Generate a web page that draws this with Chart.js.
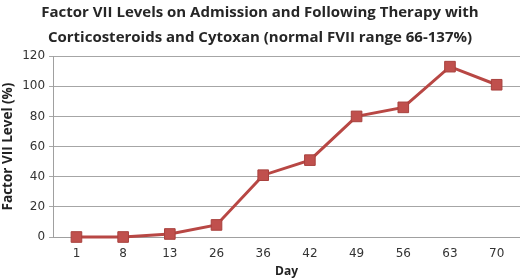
<!DOCTYPE html>
<html>
<head>
<meta charset="utf-8">
<script src="https://cdn.jsdelivr.net/npm/chart.js@4"></script>
<style>
  html, body { margin: 0; padding: 0; background: #fff; }
  #wrap { width: 520px; height: 278px; }
</style>
</head>
<body>
<div id="wrap"><canvas id="chart" width="520" height="278"></canvas></div>
<script>
const days = ['1', '8', '13', '26', '36', '42', '49', '56', '63', '70'];
const factorVII = [0, 0, 2, 8, 41, 51, 80, 86, 113, 101];
const yTicks = [0, 20, 40, 60, 80, 100, 120];

const titleLines = [
    'Factor VII Levels on Admission and Following Therapy with',
    'Corticosteroids and Cytoxan (normal FVII range 66-137%)'
];

const ctx = document.getElementById('chart').getContext('2d');
new Chart(ctx, {
    type: 'line',
    data: {
        labels: days,
        datasets: [{
            label: 'Factor VII Level (%)',
            data: factorVII,
            borderColor: '#b84744',
            borderWidth: 3,
            backgroundColor: '#c0504d',
            pointStyle: 'rect',
            pointRadius: 7.5,
            pointBorderColor: '#a8403d',
            pointBorderWidth: 1,
            pointBackgroundColor: '#c0504d',
            tension: 0,
            fill: false,
            clip: false
        }]
    },
    options: {
        responsive: false,
        animation: false,
        layout: { autoPadding: false, padding: { left: 0, right: 0, top: 0, bottom: 0 } },
        plugins: {
            legend: { display: false },
            tooltip: { enabled: false },
            title: {
                display: true,
                text: titleLines,
                color: '#262626',
                font: { family: 'Open Sans', size: 15, weight: 'bold', lineHeight: 1.67 },
                padding: { top: 0, bottom: 6 }
            }
        },
        scales: {
            x: {
                offset: true,
                grid: { display: false, drawTicks: false },
                border: { display: true, color: '#a0a0a0' },
                ticks: { color: '#333', font: { family: 'DejaVu Sans', size: 12, lineHeight: 1 }, padding: 11 },
                title: {
                    display: true,
                    text: 'Day',
                    color: '#222',
                    font: { family: 'Open Sans', size: 12, weight: 'bold', lineHeight: 1 },
                    padding: { top: -5, bottom: 0 }
                }
            },
            y: {
                min: 0,
                max: 120,
                afterBuildTicks: axis => { axis.ticks = yTicks.map(v => ({ value: v })); },
                grid: { color: '#a6a6a6', lineWidth: 1, tickLength: 4 },
                border: { display: true, color: '#a0a0a0' },
                ticks: { color: '#333', font: { family: 'DejaVu Sans', size: 12 }, padding: 4 },
                title: {
                    display: true,
                    text: 'Factor VII Level (%)',
                    color: '#222',
                    font: { family: 'Open Sans', size: 13.5, weight: 'bold' },
                    padding: { top: 0, bottom: 2 }
                }
            }
        }
    }
});
</script>
</body>
</html>
